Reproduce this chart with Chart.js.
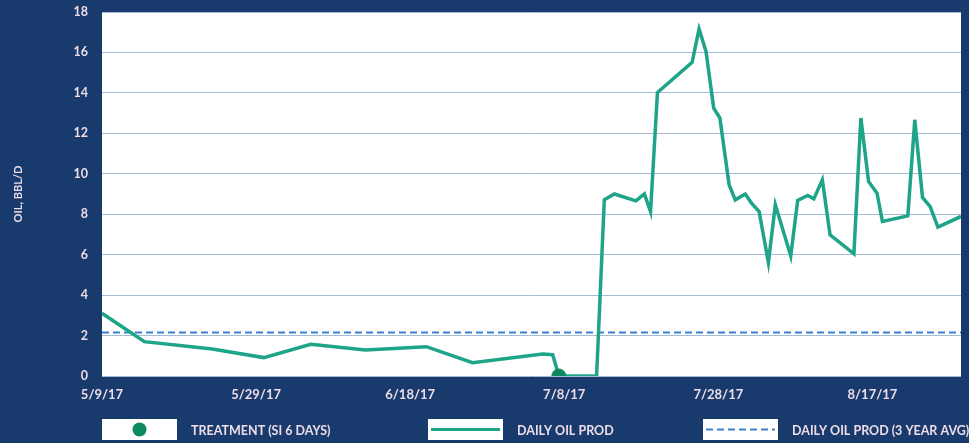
<!DOCTYPE html>
<html>
<head>
<meta charset="utf-8">
<script src="https://cdn.jsdelivr.net/npm/chart.js@4/dist/chart.umd.min.js"></script>
<style>
  body { margin: 0; background: #183a6c; }
  #oilChart { display: block; }
</style>
</head>
<body>
<canvas id="oilChart" width="969" height="443"></canvas>
<script>
// days counted from 5/9/17
const tickDays = [0, 20, 40, 60, 80, 100];
const tickLabels = ["5/9/17", "5/29/17", "6/18/17", "7/8/17", "7/28/17", "8/17/17"];

const prodDays = [
  0, 5.5, 14.3, 21.0, 27.1, 34.2, 42.1, 48.1, 57.2, 58.5,
  59.3, 64.2, 65.2, 66.5, 69.3, 70.4, 71.2, 72.1, 76.6, 77.5,
  78.4, 79.4, 80.2, 81.4, 82.2, 83.5, 84.3, 85.3, 86.5, 87.4,
  89.4, 90.3, 91.6, 92.4, 93.5, 94.5, 97.6, 98.5, 99.5, 100.6,
  101.3, 104.6, 105.5, 106.5, 107.5, 108.5, 111.5
];
const prodOil = [
  3.1, 1.7, 1.34, 0.91, 1.57, 1.29, 1.45, 0.66, 1.09, 1.05,
  0, 0, 8.71, 9.0, 8.66, 9.0, 8.13, 14.02, 15.51, 17.16,
  16.05, 13.25, 12.76, 9.46, 8.71, 9.0, 8.55, 8.13, 5.61, 8.47,
  5.94, 8.68, 8.93, 8.76, 9.7, 6.98, 6.04, 12.76, 9.62, 9.04,
  7.64, 7.92, 12.67, 8.83, 8.38, 7.36, 7.89
];
const avgDays = [0, 111.5];
const avgOil = [2.15, 2.15];
const treatmentDays = [59.3];
const treatmentOil = [0];

const seriesLabels = ["TREATMENT (SI 6 DAYS)", "DAILY OIL PROD", "DAILY OIL PROD (3 YEAR AVG)"];

const pts = (xs, ys) => xs.map((x, i) => ({ x: x, y: ys[i] }));

const navy = '#183a6c';
const textColor = '#eedde8';
const green = '#1ea488';

// navy page + white plot area
const backdrop = {
  id: 'backdrop',
  beforeDraw(chart) {
    const { ctx, chartArea: a } = chart;
    ctx.save();
    ctx.fillStyle = navy;
    ctx.fillRect(0, 0, chart.width, chart.height);
    ctx.fillStyle = '#ffffff';
    ctx.fillRect(a.left, a.top, a.right - a.left, a.bottom - a.top);
    ctx.restore();
  }
};

// boxed legend along the bottom
const boxLegend = {
  id: 'boxLegend',
  afterDraw(chart) {
    const ctx = chart.ctx;
    const boxX = [102, 428, 703];
    const y = 419, w = 75, h = 21;
    ctx.save();
    chart.data.datasets.forEach((ds, i) => {
      const x = boxX[i];
      ctx.fillStyle = '#ffffff';
      ctx.fillRect(x, y, w, h);
      const cy = y + h / 2;
      if (i === 0) {
        ctx.fillStyle = ds.backgroundColor;
        ctx.beginPath();
        ctx.arc(x + w / 2, cy, 7, 0, Math.PI * 2);
        ctx.fill();
      } else {
        ctx.strokeStyle = ds.borderColor;
        ctx.lineWidth = i === 1 ? 3 : 2;
        ctx.setLineDash(ds.borderDash || []);
        ctx.beginPath();
        ctx.moveTo(x + 3, cy);
        ctx.lineTo(x + w - 3, cy);
        ctx.stroke();
        ctx.setLineDash([]);
      }
      ctx.fillStyle = textColor;
      ctx.font = 'bold 12.5px Lato';
      ctx.textBaseline = 'middle';
      ctx.fillText(ds.label, x + 89, cy + 1);
    });
    ctx.restore();
  }
};

new Chart(document.getElementById('oilChart').getContext('2d'), {
  type: 'scatter',
  data: {
    datasets: [{
      label: seriesLabels[0],
      data: pts(treatmentDays, treatmentOil),
      backgroundColor: '#0c8a5d',
      borderColor: '#0c8a5d',
      pointRadius: 7,
      order: 0
    }, {
      label: seriesLabels[1],
      data: pts(prodDays, prodOil),
      showLine: true,
      borderColor: green,
      backgroundColor: green,
      borderWidth: 3.5,
      borderJoinStyle: 'miter',
      pointRadius: 0,
      tension: 0,
      order: 1
    }, {
      label: seriesLabels[2],
      data: pts(avgDays, avgOil),
      showLine: true,
      borderColor: '#3b80d4',
      backgroundColor: '#3b80d4',
      borderWidth: 2,
      borderDash: [7, 4],
      pointRadius: 0,
      order: 2
    }]
  },
  options: {
    responsive: false,
    animation: false,
    layout: { padding: { top: 12, right: 3, left: 0, bottom: 0 } },
    plugins: {
      legend: { display: false },
      tooltip: { enabled: false }
    },
    scales: {
      x: {
        type: 'linear',
        min: 0,
        max: 111.5,
        afterBuildTicks: axis => { axis.ticks = tickDays.map(v => ({ value: v })); },
        afterFit: axis => { axis.height = 67; },
        grid: { display: false, drawTicks: false },
        border: { display: false },
        ticks: {
          padding: 11,
          color: textColor,
          font: { family: 'Lato', size: 13, weight: 'bold' },
          maxRotation: 0,
          callback: v => tickLabels[tickDays.indexOf(v)]
        }
      },
      y: {
        min: 0,
        max: 18,
        afterFit: axis => {
          axis.width = 102;
          axis.paddingTop = 0;
          axis.paddingBottom = 0;
        },
        grid: { color: '#a3bcd3', lineWidth: 1, drawTicks: false },
        border: { display: false },
        ticks: {
          stepSize: 2,
          padding: 14,
          color: textColor,
          font: { family: 'Lato', size: 12.5, weight: 'bold' }
        },
        title: {
          display: true,
          text: 'OIL, BBL/D',
          color: textColor,
          font: { family: 'Lato', size: 11, weight: 'bold' },
          padding: { top: 12, bottom: 0 }
        }
      }
    }
  },
  plugins: [backdrop, boxLegend]
});
</script>
</body>
</html>
